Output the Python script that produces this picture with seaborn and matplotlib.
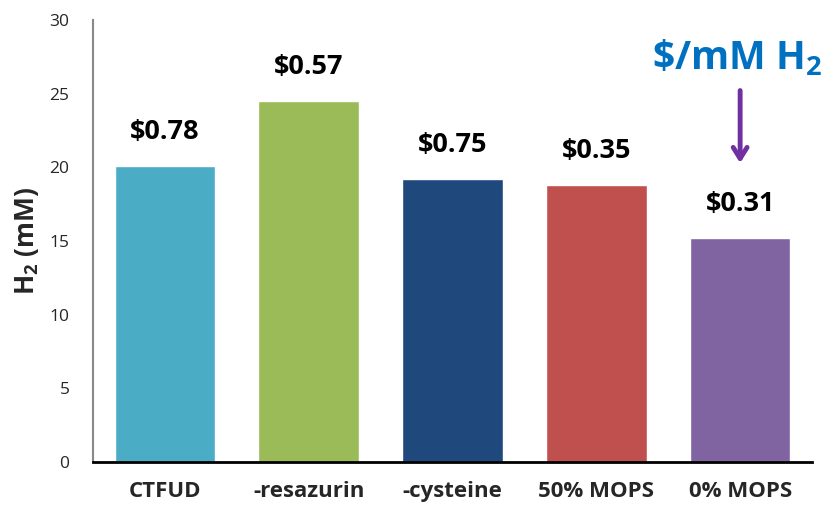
import matplotlib
matplotlib.use('Agg')
import matplotlib.pyplot as plt
import seaborn as sns
import pandas as pd

sns.set_style('white')
plt.rcParams['font.family'] = ['Open Sans', 'DejaVu Sans']
plt.rcParams['mathtext.fontset'] = 'custom'
plt.rcParams['mathtext.bf'] = 'Open Sans:bold'
plt.rcParams['mathtext.rm'] = 'Open Sans'
plt.rcParams['mathtext.default'] = 'bf'

conditions = ['CTFUD', '-resazurin', '-cysteine', '50% MOPS', '0% MOPS']
h2_mm = [20.1, 24.5, 19.2, 18.8, 15.2]
cost_labels = ['$0.78', '$0.57', '$0.75', '$0.35', '$0.31']
bar_colors = ['#4BACC6', '#9BBB59', '#1F497D', '#C0504D', '#8064A2']

df = pd.DataFrame({'condition': conditions, 'h2': h2_mm})

fig = plt.figure(figsize=(8.35, 5.09), dpi=100)
ax = fig.add_axes([0.1114, 0.0923, 0.8611, 0.8684])

sns.barplot(data=df, x='condition', y='h2', hue='condition', palette=bar_colors,
            width=0.70, saturation=1, legend=False, ax=ax)

ax.set_xlim(-0.5, 4.5)
ax.set_ylim(0, 30)
ax.set_yticks(range(0, 31, 5))
ax.set_xlabel('')
ax.set_ylabel(r'H$_2$ (mM)', fontsize=19, fontweight='bold')
ax.yaxis.set_label_coords(-0.073, 0.5)
ax.tick_params(axis='y', labelsize=12.5, length=0, pad=17)
ax.tick_params(axis='x', labelsize=16, length=0, pad=14)
for lbl in ax.get_xticklabels():
    lbl.set_fontweight('bold')

for s in ['top', 'right']:
    ax.spines[s].set_visible(False)
ax.spines['left'].set_color('#898989')
ax.spines['left'].set_linewidth(1.5)
ax.spines['bottom'].set_color('black')
ax.spines['bottom'].set_linewidth(2)

for i, (v, c) in enumerate(zip(h2_mm, cost_labels)):
    ax.text(i, v + 2.3, c.replace('$', r'\$'), ha='center', va='center',
            fontsize=19.5, fontweight='bold', color='black')

ax.text(3.98, 27.4, r'\$/mM H$_2$', ha='center', va='center', fontsize=28,
        fontweight='bold', color='#0070C0')
ax.annotate('', xy=(4.0, 20.1), xytext=(4.0, 25.4),
            arrowprops=dict(arrowstyle='->,head_length=0.8,head_width=0.5',
                            color='#7030A0', lw=3.5))

fig.savefig('out.png', dpi=100)
